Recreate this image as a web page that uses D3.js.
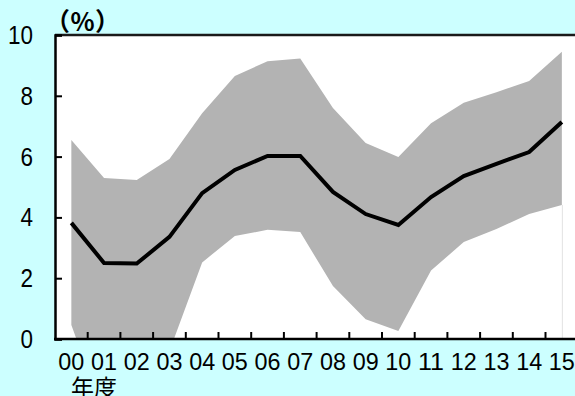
<!DOCTYPE html>
<html>
<head>
<meta charset="utf-8">
<script src="https://cdn.jsdelivr.net/npm/d3@7"></script>
<style>
  html, body { margin: 0; padding: 0; background: #ccffff; }
  svg { display: block; }
  text { fill: #000; }
</style>
</head>
<body>
<svg id="chart" width="575" height="396"></svg>
<script>
// Fiscal years (two-digit labels)
const years = ["00","01","02","03","04","05","06","07","08","09","10","11","12","13","14","15"];
// Central estimate (%)
const central = [3.82, 2.50, 2.48, 3.36, 4.80, 5.56, 6.02, 6.02, 4.84, 4.11, 3.75, 4.67, 5.36, 5.76, 6.15, 7.14];
// Upper bound of the range (%)
const upper = [6.55, 5.30, 5.23, 5.92, 7.43, 8.65, 9.14, 9.23, 7.60, 6.45, 5.99, 7.10, 7.77, 8.12, 8.49, 9.45];
// Lower bound of the range (%)
const lower = [0.46, -2.50, -2.30, -0.40, 2.52, 3.39, 3.59, 3.52, 1.74, 0.65, 0.26, 2.25, 3.19, 3.62, 4.11, 4.41];
// Y-axis ticks
const yTicks = [0, 2, 4, 6, 8, 10];

const LATIN = '"Liberation Sans", "Noto Sans CJK JP", sans-serif';
const CJK = '"Noto Sans CJK JP", sans-serif';

const svg = d3.select("#chart");
const mLeft = 55, mTop = 35, mBottom = 339;
const band = 32.7;
const mRight = mLeft + band * years.length;

const x = d3.scaleBand().domain(years).range([mLeft, mRight]).paddingInner(0).paddingOuter(0);
const xc = d => x(d) + x.bandwidth() / 2;
const y = d3.scaleLinear().domain([0, 10]).range([mBottom, mTop]);

// Plot area
svg.append("rect")
  .attr("x", mLeft).attr("y", mTop)
  .attr("width", 575 - mLeft).attr("height", mBottom - mTop)
  .attr("fill", "#ffffff");

svg.append("clipPath").attr("id", "plot")
  .append("rect").attr("x", mLeft).attr("y", mTop)
  .attr("width", 575 - mLeft).attr("height", mBottom - mTop);

const g = svg.append("g").attr("clip-path", "url(#plot)");

// Range band
g.append("path")
  .datum(years.map((yr, i) => ({ yr, lo: lower[i], hi: upper[i] })))
  .attr("fill", "#b3b3b3")
  .attr("d", d3.area().x(d => xc(d.yr)).y0(d => y(d.lo)).y1(d => y(d.hi)));

// faint edge of the band at the last year
const lastYr = years[years.length - 1];
g.append("line")
  .attr("x1", xc(lastYr) + 0.5).attr("x2", xc(lastYr) + 0.5)
  .attr("y1", y(lower[lower.length - 1])).attr("y2", y(0))
  .attr("stroke", "#e2e2e2").attr("stroke-width", 1);

// Central line
g.append("path")
  .datum(years.map((yr, i) => ({ yr, v: central[i] })))
  .attr("fill", "none")
  .attr("stroke", "#000")
  .attr("stroke-width", 4)
  .attr("stroke-linejoin", "miter")
  .attr("d", d3.line().x(d => xc(d.yr)).y(d => y(d.v)));

// Top border
svg.append("line")
  .attr("x1", mLeft).attr("x2", 575).attr("y1", mTop).attr("y2", mTop)
  .attr("stroke", "#1a1a1a").attr("stroke-width", 2.5);

// Y axis
const yAxis = d3.axisRight(y).tickValues(yTicks).tickSize(7).tickFormat("");
const ya = svg.append("g").attr("transform", `translate(${mLeft},0)`).call(yAxis);
ya.select(".domain").attr("stroke", "#000").attr("stroke-width", 2.5);
ya.selectAll(".tick line").attr("stroke", "#000").attr("stroke-width", 2);

svg.append("g").selectAll("text").data(yTicks).join("text")
  .style("font-family", LATIN)
  .attr("x", 33).attr("y", d => y(d) + 9)
  .attr("text-anchor", "end")
  .attr("font-size", 25)
  .attr("textLength", d => String(d).length * 12.5)
  .attr("lengthAdjust", "spacingAndGlyphs")
  .text(d => d);

// X axis
const xAxisG = svg.append("g");
xAxisG.append("line")
  .attr("x1", mLeft - 1).attr("x2", 575).attr("y1", mBottom).attr("y2", mBottom)
  .attr("stroke", "#000").attr("stroke-width", 2.5);
xAxisG.selectAll("line.tk").data(years.slice(1)).join("line")
  .attr("class", "tk")
  .attr("x1", d => x(d)).attr("x2", d => x(d))
  .attr("y1", mBottom).attr("y2", mBottom - 7)
  .attr("stroke", "#000").attr("stroke-width", 2);

xAxisG.selectAll("text").data(years).join("text")
  .style("font-family", LATIN)
  .attr("x", d => xc(d)).attr("y", 369.5)
  .attr("text-anchor", "middle")
  .attr("font-size", 24.5)
  .attr("textLength", 26)
  .attr("lengthAdjust", "spacingAndGlyphs")
  .text(d => d);

// Unit and axis title
svg.append("text")
  .style("font-family", CJK)
  .attr("x", 45).attr("y", 31)
  .attr("font-size", 25)
  .attr("font-weight", "bold")
  .text("（％）");

svg.append("text")
  .style("font-family", CJK)
  .attr("x", 71).attr("y", 396)
  .attr("font-size", 23)
  .text("年度");
</script>
</body>
</html>
